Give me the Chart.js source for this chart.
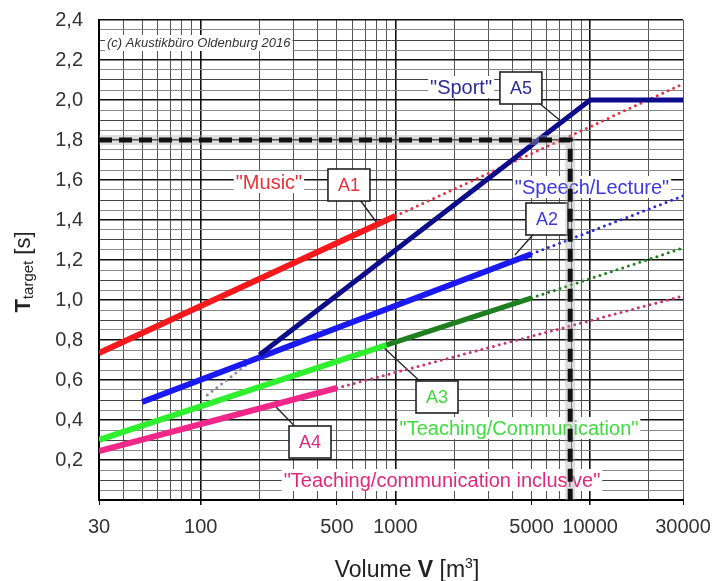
<!DOCTYPE html>
<html>
<head>
<meta charset="utf-8">
<script src="https://cdn.jsdelivr.net/npm/chart.js@4.4.1/dist/chart.umd.min.js"></script>
<style>
  html, body { margin: 0; padding: 0; background: #fff; }
  #wrap { width: 715px; height: 581px; }
</style>
</head>
<body>
<div id="wrap"><canvas id="c"></canvas></div>
<script>
(function () {
    'use strict';

    // tick labels
    var xLabels = [30, 100, 500, 1000, 5000, 10000, 30000];
    var yLabels = [0.2, 0.4, 0.6, 0.8, 1.0, 1.2, 1.4, 1.6, 1.8, 2.0, 2.2, 2.4];

    // A1 "Music"
    var a1V = [30, 1000], a1T = [0.735, 1.42];
    var a1xV = [1000, 30000], a1xT = [1.42, 2.08];
    // A2 "Speech/Lecture"
    var a2V = [50, 5000], a2T = [0.49, 1.23];
    var a2xV = [5000, 30000], a2xT = [1.23, 1.52];
    // A3 "Teaching/Communication"
    var a3V = [30, 900], a3T = [0.30, 0.775];
    var a3bV = [900, 5000], a3bT = [0.775, 1.01];
    var a3xV = [5000, 30000], a3xT = [1.01, 1.26];
    // A4 "Teaching/communication inclusive"
    var a4V = [30, 500], a4T = [0.245, 0.56];
    var a4xV = [500, 30000], a4xT = [0.56, 1.02];
    // A5 "Sport"
    var a5V = [200, 10000, 30000], a5T = [0.725, 2.0, 2.0];
    var a5xV = [108, 200], a5xT = [0.525, 0.725];
    // example reading: 1.8 s -> ~7900 m3
    var markV = [30, 7900, 7900], markT = [1.8, 1.8, 0];

    var FONT = '"Liberation Sans", Arial, sans-serif';

    function pts(vs, ts) {
        return vs.map(function (v, i) { return { x: v, y: ts[i] }; });
    }

    var xGrid = [];
    [10, 100, 1000, 10000].forEach(function (d) {
        for (var k = 1; k <= 9; k++) {
            var v = k * d;
            if (v >= 30 && v <= 30000) { xGrid.push(v); }
        }
    });
    var yGrid = [];
    for (var i = 0; i <= 48; i++) { yGrid.push(Math.round(i * 5) / 100); }

    function isDecade(v) { return v === 100 || v === 1000 || v === 10000; }
    function hund(v) { return Math.round(v * 100); }
    function yLabel(v) {
        for (var k = 0; k < yLabels.length; k++) {
            if (hund(yLabels[k]) === hund(v)) { return yLabels[k].toFixed(1).replace('.', ','); }
        }
        return '';
    }

    function solid(data, color, width, order) {
        return { data: data, borderColor: color, borderWidth: width, pointRadius: 0,
                 borderCapStyle: 'butt', borderJoinStyle: 'miter', fill: false, tension: 0, order: order };
    }
    function dotted(data, color, order) {
        return { data: data, borderColor: color, borderWidth: 3, pointRadius: 0,
                 borderDash: [0, 6], borderCapStyle: 'round', fill: false, tension: 0, order: order };
    }

    var texts = [
        { text: '"Music"', v: 224, t: 1.59, color: '#e8303a' },
        { text: '"Sport"', v: 2172, t: 2.065, color: '#2b2b99' },
        { text: '"Speech/Lecture"', v: 10227, t: 1.565, color: '#3a3ae0' },
        { text: '"Teaching/Communication"', v: 4311, t: 0.36, color: '#3fdc3f' },
        { text: '"Teaching/communication inclusive"', v: 1734, t: 0.10, color: '#dd2a7a' }
    ];
    var boxes = [
        { text: 'A1', v: 577, t: 1.575, color: '#e8303a', lv: 804, lt: 1.385 },
        { text: 'A5', v: 4410, t: 2.06, color: '#2b2b99', lv: 7167, lt: 1.89 },
        { text: 'A2', v: 6000, t: 1.405, color: '#3a3ae0', lv: 4110, lt: 1.225 },
        { text: 'A3', v: 1635, t: 0.515, color: '#3fdc3f', lv: 863, lt: 0.765 },
        { text: 'A4', v: 364, t: 0.29, color: '#dd2a7a', lv: 241, lt: 0.47 }
    ];

    var annot = {
        id: 'annot',
        beforeDatasetsDraw: function (chart) {
            var ctx = chart.ctx, xs = chart.scales.x, ys = chart.scales.y;
            ctx.save();
            ctx.textBaseline = 'middle';
            ctx.textAlign = 'center';

            // copyright
            ctx.font = 'italic 13px ' + FONT;
            var cx = xs.getPixelForValue(32.2), cy = ys.getPixelForValue(2.285);
            var cw = ctx.measureText('(c) Akustikbüro Oldenburg 2016').width;
            ctx.fillStyle = '#fff';
            ctx.fillRect(cx, cy - 8, cw + 4, 16);
            ctx.fillStyle = '#333';
            ctx.textAlign = 'left';
            ctx.fillText('(c) Akustikbüro Oldenburg 2016', cx + 2, cy);
            ctx.textAlign = 'center';

            ctx.font = '20px ' + FONT;
            texts.forEach(function (a) {
                var x = xs.getPixelForValue(a.v), y = ys.getPixelForValue(a.t);
                var w = ctx.measureText(a.text).width;
                ctx.fillStyle = '#fff';
                ctx.fillRect(x - w / 2 - 2, y - 11, w + 4, 22);
                ctx.fillStyle = a.color;
                ctx.fillText(a.text, x, y + 1);
            });

            ctx.font = '18px ' + FONT;
            boxes.forEach(function (b) {
                var x = xs.getPixelForValue(b.v), y = ys.getPixelForValue(b.t);
                ctx.strokeStyle = '#222';
                ctx.lineWidth = 1.3;
                ctx.beginPath();
                ctx.moveTo(x, y);
                ctx.lineTo(xs.getPixelForValue(b.lv), ys.getPixelForValue(b.lt));
                ctx.stroke();
                ctx.fillStyle = '#fff';
                ctx.fillRect(x - 21, y - 16, 42, 32);
                ctx.lineWidth = 1.6;
                ctx.strokeRect(x - 21, y - 16, 42, 32);
                ctx.fillStyle = b.color;
                ctx.fillText(b.text, x, y + 1);
            });
            ctx.restore();
        },
        afterDraw: function (chart) {
            var ctx = chart.ctx;
            ctx.save();
            ctx.fillStyle = '#222';
            ctx.textBaseline = 'alphabetic';
            ctx.textAlign = 'left';

            // x title: Volume V [m³]
            var parts = [
                { s: 'Volume ', f: '23px ' + FONT, dy: 0 },
                { s: 'V', f: 'bold 23px ' + FONT, dy: 0 },
                { s: ' [m', f: '23px ' + FONT, dy: 0 },
                { s: '3', f: '14px ' + FONT, dy: -9 },
                { s: ']', f: '23px ' + FONT, dy: 0 }
            ];
            var tw = 0;
            parts.forEach(function (p) { ctx.font = p.f; p.w = ctx.measureText(p.s).width; tw += p.w; });
            var x = 407 - tw / 2;
            parts.forEach(function (p) { ctx.font = p.f; ctx.fillText(p.s, x, 577 + p.dy); x += p.w; });

            // y title: T_target [s]
            var yparts = [
                { s: 'T', f: 'bold 22px ' + FONT, dy: 0 },
                { s: 'target', f: '15px ' + FONT, dy: 3 },
                { s: ' [s]', f: '22px ' + FONT, dy: 0 }
            ];
            var th = 0;
            yparts.forEach(function (p) { ctx.font = p.f; p.w = ctx.measureText(p.s).width; th += p.w; });
            ctx.translate(30, 272 + th / 2);
            ctx.rotate(-Math.PI / 2);
            var lx = 0;
            yparts.forEach(function (p) { ctx.font = p.f; ctx.fillText(p.s, lx, p.dy); lx += p.w; });
            ctx.restore();
        }
    };

    new Chart(document.getElementById('c').getContext('2d'), {
        type: 'line',
        data: {
            datasets: [
                { data: pts(markV, markT), borderColor: '#111', borderWidth: 5, borderDash: [13, 7],
                  pointRadius: 0, fill: false, tension: 0, borderJoinStyle: 'miter', order: 0 },
                { data: pts(markV, markT), borderColor: 'rgba(170,170,170,0.4)', borderWidth: 10,
                  pointRadius: 0, fill: false, tension: 0, order: 1 },
                solid(pts(a5V, a5T), '#0d0d8c', 5, 2),
                solid(pts(a1V, a1T), '#f5191e', 6, 4),
                solid(pts(a2V, a2T), '#1a1af0', 6, 3),
                solid(pts(a3V, a3T), '#2ef02e', 6, 5),
                solid(pts(a3bV, a3bT), '#1f7f1f', 5, 5),
                solid(pts(a4V, a4T), '#f0288a', 6, 6),
                dotted(pts(a1xV, a1xT), '#e83040', 7),
                dotted(pts(a2xV, a2xT), '#2a2ad8', 8),
                dotted(pts(a3xV, a3xT), '#1f7f1f', 9),
                dotted(pts(a4xV, a4xT), '#cc3070', 10),
                dotted(pts(a5xV, a5xT), '#8a8aa8', 11)
            ]
        },
        options: {
            responsive: true,
            maintainAspectRatio: false,
            animation: false,
            layout: { padding: { top: 20, right: 32, left: 0, bottom: 0 } },
            plugins: { legend: { display: false }, tooltip: { enabled: false } },
            scales: {
                x: {
                    type: 'logarithmic',
                    min: 30,
                    max: 30000,
                    afterBuildTicks: function (s) { s.ticks = xGrid.map(function (v) { return { value: v }; }); },
                    afterFit: function (s) { s.height = 81; s.paddingLeft = 0; s.paddingRight = 0; },
                    ticks: {
                        autoSkip: false, maxRotation: 0, minRotation: 0, padding: 10,
                        color: '#333', font: { size: 20, family: FONT },
                        callback: function (v) { return xLabels.indexOf(v) >= 0 ? String(v) : ''; }
                    },
                    grid: {
                        tickLength: 5,
                        color: function (c) { return c.tick && isDecade(c.tick.value) ? '#111' : '#555'; },
                        lineWidth: function (c) { return c.tick && isDecade(c.tick.value) ? 1.6 : 1; },
                        tickColor: function (c) { return c.tick && xLabels.indexOf(c.tick.value) >= 0 ? '#111' : 'rgba(0,0,0,0)'; }
                    },
                    border: { color: '#000', width: 2 }
                },
                y: {
                    type: 'linear',
                    min: 0,
                    max: 2.4,
                    afterBuildTicks: function (s) { s.ticks = yGrid.map(function (v) { return { value: v }; }); },
                    afterFit: function (s) { s.width = 99; s.paddingTop = 0; s.paddingBottom = 0; },
                    ticks: {
                        autoSkip: false, padding: 16,
                        color: '#333', font: { size: 20, family: FONT },
                        callback: function (v) { return yLabel(v); }
                    },
                    grid: {
                        drawTicks: false,
                        color: function (c) {
                            if (!c.tick) { return '#888'; }
                            var h = hund(c.tick.value);
                            if (h % 20 === 0) { return '#111'; }
                            if (h % 10 === 0) { return '#444'; }
                            return '#888';
                        },
                        lineWidth: function (c) {
                            return c.tick && hund(c.tick.value) % 20 === 0 ? 1.6 : 1;
                        }
                    },
                    border: { color: '#000', width: 2 }
                }
            }
        },
        plugins: [annot]
    });
})();
</script>
</body>
</html>
